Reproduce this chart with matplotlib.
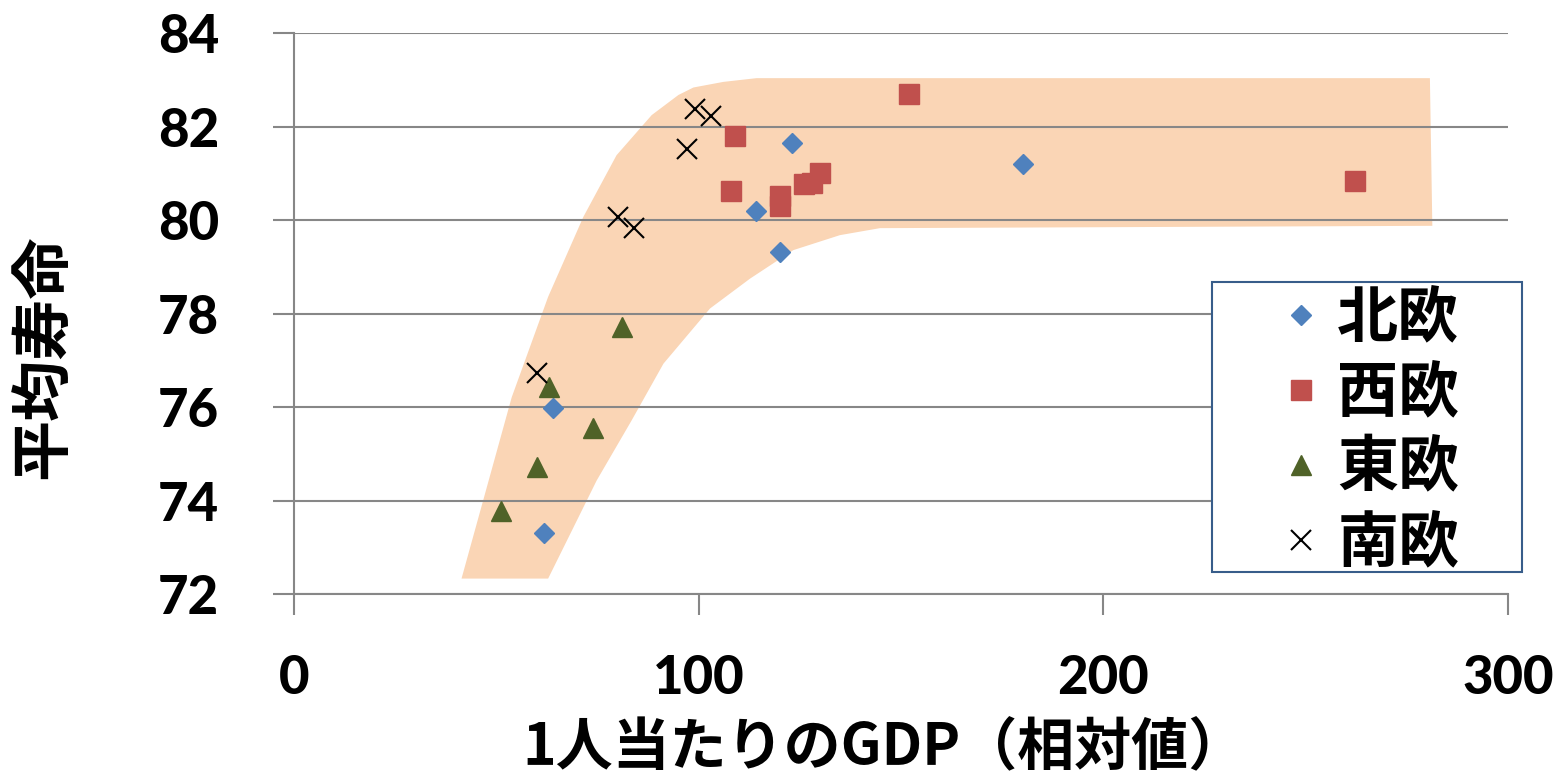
import matplotlib
matplotlib.use("Agg")
import matplotlib.pyplot as plt
from matplotlib.patches import Polygon, Rectangle

# --- data -------------------------------------------------------------
north_x = [64.0, 61.9, 114.1, 120.1, 123.1, 180.1]
north_y = [75.99, 73.30, 80.19, 79.31, 81.65, 81.20]

west_x = [109.0, 108.0, 120.0, 120.0, 126.0, 127.9, 130.0, 152.0, 262.2]
west_y = [81.81, 80.62, 80.51, 80.31, 80.78, 80.80, 81.02, 82.70, 80.84]

east_x = [81.0, 63.1, 74.0, 60.0, 51.1]
east_y = [77.71, 76.43, 75.56, 74.71, 73.78]

south_x = [60.0, 99.1, 103.0, 97.1, 80.0, 84.1]
south_y = [76.73, 82.39, 82.23, 81.53, 80.06, 79.84]

# shaded trend band (outline vertices: upper edge left->right, lower edge right->left)
band_x = [41.4, 53.8, 62.8, 71.5, 79.7, 88.4, 95.0, 98.7, 106.1, 114.3, 280.7,
          281.3, 144.8, 134.9, 123.4, 112.7, 102.8, 91.3, 83.4, 74.8, 62.8]
band_y = [72.33, 76.21, 78.36, 80.07, 81.39, 82.25, 82.68, 82.84, 82.96, 83.04, 83.04,
          79.88, 79.83, 79.68, 79.36, 78.75, 78.11, 76.93, 75.71, 74.43, 72.33]

series_names = ["北欧", "西欧", "東欧", "南欧"]
x_ticks = [0, 100, 200, 300]
y_ticks = [72, 74, 76, 78, 80, 82, 84]
x_label = "1人当たりのGDP（相対値）"
y_label = "平均寿命"

# --- figure -----------------------------------------------------------
W, H = 1557, 776
fig = plt.figure(figsize=(W / 100, H / 100), dpi=100)
ax = fig.add_axes([294 / W, 1 - 594 / H, (1508 - 294) / W, (594 - 33.3) / H])

grid_c = "#878787"
ax.add_patch(Polygon(list(zip(band_x, band_y)), closed=True,
                     facecolor="#fad5b5", edgecolor="none", zorder=1))

h1, = ax.plot(north_x, north_y, ls="none", marker="D", ms=10.6,
              color="#4f81bd", mec="#4f81bd", zorder=3)
h2, = ax.plot(west_x, west_y, ls="none", marker="s", ms=14.2,
              color="#c0504d", mec="#c0504d", zorder=3)
h3, = ax.plot(east_x, east_y, ls="none", marker="^", ms=15,
              color="#4f6228", mec="#4f6228", zorder=3)
h4, = ax.plot(south_x, south_y, ls="none", marker="x", ms=14,
              color="black", mew=1.5, zorder=3)

ax.set_xlim(0, 300)
ax.set_ylim(72, 84)
ax.set_xticks(x_ticks)
ax.set_yticks(y_ticks)
ax.yaxis.grid(True, color=grid_c, lw=1.5)
ax.xaxis.grid(False)

for s in ["top", "right"]:
    ax.spines[s].set_visible(False)
for s in ["left", "bottom"]:
    ax.spines[s].set_color(grid_c)
    ax.spines[s].set_linewidth(1.5)

ax.tick_params(axis="both", direction="out", length=15, width=1.5, color=grid_c)
ax.tick_params(axis="y", pad=39)
ax.tick_params(axis="x", pad=28)
for lab in ax.get_xticklabels() + ax.get_yticklabels():
    lab.set_fontfamily(["Lato", "DejaVu Sans"])
    lab.set_fontweight(900)
    lab.set_fontsize(38)

cjk = ["Noto Sans CJK JP", "DejaVu Sans"]
fig.text(884 / W, 1 - 748 / H, x_label, family=cjk, weight="bold",
         fontsize=41, ha="center", va="center")
fig.text(43 / W, 1 - 357 / H, y_label, family=cjk, weight="bold",
         fontsize=44, ha="center", va="center", rotation=90)

# legend with a separately drawn frame
ax.add_patch(Rectangle((1212 / W, 1 - 572 / H), (1522 - 1212) / W, (572 - 282) / H,
                       transform=fig.transFigure, facecolor="white",
                       edgecolor="#385d8a", lw=1.5, zorder=4, clip_on=False))
leg = ax.legend([h1, h2, h3, h4], series_names, loc="upper left",
                bbox_to_anchor=(1270 / W, 1 - 288 / H), bbox_transform=fig.transFigure,
                frameon=False, borderpad=0, borderaxespad=0, handlelength=1.0,
                handletextpad=0.1, labelspacing=0.22,
                prop={"family": cjk, "weight": "bold", "size": 44})
leg.set_zorder(5)

fig.savefig("out.png", dpi=100)
